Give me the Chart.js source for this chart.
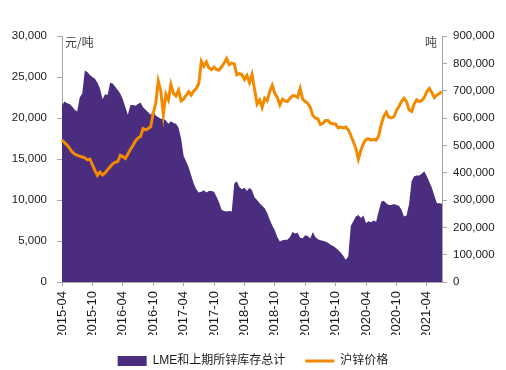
<!DOCTYPE html>
<html><head><meta charset="utf-8">
<script src="https://cdn.jsdelivr.net/npm/chart.js@4/dist/chart.umd.min.js"></script>
<style>html,body{margin:0;padding:0;background:#fff;}#wrap{width:506px;height:370px;}</style>
</head><body>
<div id="wrap"><canvas id="c" width="506" height="370"></canvas></div>
<script>
// Semi-monthly observations, 2015-04-01 .. 2021-07-01
const startYear = 2015, startMonth = 4, pointCount = 151;
const dates = [];
for (let k = 0; k < pointCount; k++) {
  const m = startMonth - 1 + Math.floor(k / 2);
  const y = startYear + Math.floor(m / 12);
  const mm = String(m % 12 + 1).padStart(2, '0');
  dates.push(y + '-' + mm + (k % 2 === 0 ? '-01' : '-16'));
}
const tickLabels = ['2015-04','2015-10','2016-04','2016-10','2017-04','2017-10','2018-04','2018-10','2019-04','2019-10','2020-04','2020-10','2021-04'];

const seriesNames = ['LME和上期所锌库存总计', '沪锌价格'];
const leftUnit = '元/吨';
const rightUnit = '吨';

// 沪锌价格 (元/吨), left axis
const zincPrice = [
17320,17000,16700,16300,15850,15600,15450,15350,15250,15150,
14900,15000,14300,13600,13000,13400,13050,13300,13700,14050,
14400,14600,14700,15450,15300,15050,15600,16150,16650,17200,
17550,17750,18700,18550,18700,18950,20550,21800,24500,23300,
20400,22900,22200,24100,23000,22700,23400,22100,22300,22800,
23200,22800,23300,23600,24200,26900,26300,26850,26100,25900,
26200,25900,25850,26250,26700,27250,26500,26700,26600,25250,
25400,25300,24700,25200,24300,25300,23500,21700,22200,21300,
22400,22100,23200,24000,23000,22500,21600,22300,22100,22000,
22400,22700,22700,22500,23600,22300,22000,21800,21300,20300,
20000,19900,19200,19350,19700,19700,19350,19300,19250,18800,
18900,18800,18900,18550,17900,17100,16300,15000,16100,16900,
17400,17450,17300,17400,17300,17800,19200,20200,20700,20100,
20000,20150,20900,21400,22000,22400,22000,21000,20800,21700,
22200,22000,22100,22500,23200,23600,23100,22500,22800,23000,
23200];

// LME和上期所锌库存总计 (吨), right axis
const zincStock = [
648000,660000,654000,651000,642000,630000,624000,675000,690000,774000,
768000,757000,750000,744000,729000,708000,669000,687000,684000,729000,
726000,714000,702000,690000,669000,639000,612000,648000,648000,645000,
651000,657000,639000,630000,621000,612000,624000,609000,603000,597000,
597000,591000,579000,588000,582000,579000,564000,525000,462000,441000,
420000,390000,360000,339000,327000,330000,336000,327000,333000,333000,
330000,312000,291000,264000,260000,258000,260000,258000,360000,369000,
348000,339000,345000,333000,345000,336000,309000,300000,288000,279000,
270000,252000,228000,207000,189000,165000,148000,153000,155000,155000,
165000,183000,177000,180000,162000,160000,171000,168000,159000,183000,
165000,156000,153000,151000,148000,144000,136000,132000,125000,117000,
108000,96000,81000,93000,205000,222000,240000,245000,234000,243000,
216000,222000,219000,225000,220000,258000,294000,297000,288000,282000,
282000,285000,282000,279000,264000,240000,243000,285000,369000,387000,
390000,390000,396000,405000,387000,366000,345000,315000,288000,288000,
286000];

const FONT = '"Liberation Sans", "Noto Sans CJK SC", sans-serif';
const axisGrey = '#a6a6a6';
const textCol = '#1a1a1a';

const unitPlugin = {
  id: 'units',
  afterDraw(chart) {
    const {ctx, chartArea: a} = chart;
    ctx.save();
    ctx.font = '12px "Noto Sans CJK SC", sans-serif';
    ctx.fillStyle = '#404040';
    ctx.textBaseline = 'middle';
    ctx.textAlign = 'left';
    ctx.fillText(leftUnit, a.left + 3, a.top + 6);
    ctx.textAlign = 'right';
    ctx.fillText(rightUnit, a.right - 5, a.top + 6);
    ctx.restore();
  }
};

const fmt = v => Number(v).toLocaleString('en-US');

new Chart(document.getElementById('c'), {
  type: 'line',
  data: {
    labels: dates,
    datasets: [
      {
        label: seriesNames[0],
        data: zincStock,
        yAxisID: 'y1',
        fill: 'origin',
        backgroundColor: '#4b2d7f',
        borderColor: '#4b2d7f',
        borderWidth: 0,
        pointRadius: 0,
        pointStyle: 'rect',
        tension: 0,
        order: 2
      },
      {
        label: seriesNames[1],
        data: zincPrice,
        yAxisID: 'y',
        fill: false,
        borderColor: '#f28a00',
        backgroundColor: '#f28a00',
        borderWidth: 3,
        pointRadius: 0,
        pointStyle: 'line',
        tension: 0,
        order: 1
      }
    ]
  },
  options: {
    responsive: false,
    animation: false,
    events: [],
    layout: { padding: { top: 36, left: 0, right: 0, bottom: -7 } },
    plugins: {
      tooltip: { enabled: false },
      legend: {
        position: 'bottom',
        labels: {
          usePointStyle: true,
          pointStyleWidth: 29,
          boxHeight: 10,
          padding: 20,
          color: textCol,
          font: { size: 12, family: FONT },
          sort: (a, b) => a.datasetIndex - b.datasetIndex
        }
      }
    },
    scales: {
      x: {
        type: 'category',
        offset: false,
        grid: { display: true, drawOnChartArea: false, color: axisGrey, tickLength: 4 },
        border: { display: true, color: axisGrey, width: 1 },
        ticks: {
          autoSkip: false,
          minRotation: 90,
          maxRotation: 90,
          padding: 5,
          color: textCol,
          font: { size: 13, family: FONT },
          callback: function(v, i) {
            const s = dates[i].slice(0, 7);
            return (dates[i].endsWith('-01') && tickLabels.includes(s)) ? s : null;
          }
        },
        afterFit(s) { s.height = 53; }
      },
      y: {
        position: 'left',
        min: 0, max: 30000,
        grid: { display: true, drawOnChartArea: false, color: axisGrey, tickLength: 5 },
        border: { display: true, color: axisGrey, width: 1 },
        ticks: { stepSize: 5000, padding: 10, color: textCol, font: { size: 11.5, family: FONT }, callback: v => fmt(v) },
        afterFit(s) { s.width = 62; }
      },
      y1: {
        position: 'right',
        min: 0, max: 900000,
        grid: { display: true, drawOnChartArea: false, color: axisGrey, tickLength: 5 },
        border: { display: true, color: axisGrey, width: 1 },
        ticks: { stepSize: 100000, padding: 6, color: textCol, font: { size: 11.5, family: FONT }, callback: v => fmt(v) },
        afterFit(s) { s.width = 64; }
      }
    }
  },
  plugins: [unitPlugin]
});
</script>
</body></html>
